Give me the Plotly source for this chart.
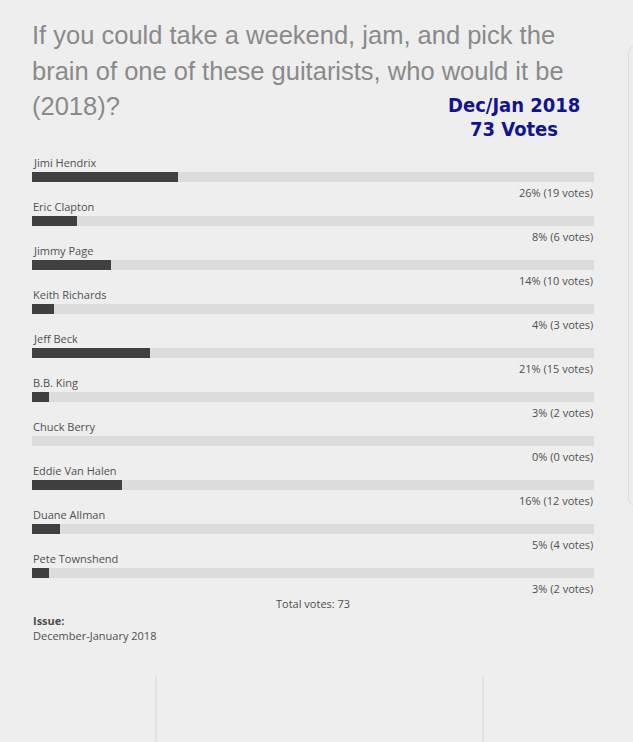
import plotly.graph_objects as go

# poll results, Dec/Jan 2018 issue
guitarists = ["Jimi Hendrix", "Eric Clapton", "Jimmy Page", "Keith Richards", "Jeff Beck",
              "B.B. King", "Chuck Berry", "Eddie Van Halen", "Duane Allman", "Pete Townshend"]
votes = [19, 6, 10, 3, 15, 2, 0, 12, 4, 2]
percents = [26, 8, 14, 4, 21, 3, 0, 16, 5, 3]

title_lines = ["If you could take a weekend, jam, and pick the",
               "brain of one of these guitarists, who would it be",
               "(2018)?"]
stamp_lines = ["Dec/Jan 2018", "73 Votes"]

total_votes = sum(votes)

W, H = 633, 742
L, R, T, B = 32, 39, 133, 125
BG = "#eeeeee"
TXT = "#505050"
FONT = "Open Sans, Noto Sans, sans-serif"
SMALL = 11


# paper coords are relative to the plot area, so convert page pixels
def px(x):
    return (x - L) / (W - L - R)


def py(y):
    return 1 - (y - T) / (H - T - B)


fig = go.Figure()

# grey track behind each bar
fig.add_trace(go.Bar(
    x=[100] * len(guitarists), y=guitarists, orientation="h",
    marker=dict(color="#dcdcdc", line=dict(width=0)),
    width=0.227, hoverinfo="skip", showlegend=False,
))
fig.add_trace(go.Bar(
    x=percents, y=guitarists, orientation="h",
    marker=dict(color="#404040", line=dict(width=0)),
    width=0.227, showlegend=False,
    customdata=votes, hovertemplate="%{y}: %{x}% (%{customdata} votes)<extra></extra>",
))

annotations = []
for name, pct, v in zip(guitarists, percents, votes):
    annotations.append(dict(
        x=0, y=name, xref="x", yref="y", text=name, showarrow=False,
        xanchor="left", yanchor="middle", yshift=15, xshift=-1,
        font=dict(size=SMALL, color=TXT, family=FONT),
    ))
    annotations.append(dict(
        x=100, y=name, xref="x", yref="y", text=f"{pct}% ({v} votes)", showarrow=False,
        xanchor="right", yanchor="middle", yshift=-15, xshift=1,
        font=dict(size=SMALL, color=TXT, family=FONT),
    ))

# title block, one annotation per line to get the wide line spacing
for i, line in enumerate(title_lines):
    annotations.append(dict(
        x=px(30), y=py(35 + 35.5 * i), xref="paper", yref="paper",
        xanchor="left", yanchor="middle", showarrow=False, text=line,
        font=dict(size=25.5, color="#8a8a8a", family="Liberation Sans, Arial, sans-serif"),
    ))

for i, line in enumerate(stamp_lines):
    annotations.append(dict(
        x=px(514), y=py(105 + 24 * i), xref="paper", yref="paper",
        xanchor="center", yanchor="middle", showarrow=False, text=f"<b>{line}</b>",
        font=dict(size=20, color="#13138f",
                  family="DejaVu Sans Condensed, Liberation Sans Narrow, sans-serif"),
    ))

# footer
annotations.append(dict(
    x=px(313), y=py(603), xref="paper", yref="paper", xanchor="center", yanchor="middle",
    showarrow=False, text=f"Total votes: {total_votes}",
    font=dict(size=SMALL, color=TXT, family=FONT),
))
annotations.append(dict(
    x=px(31), y=py(620), xref="paper", yref="paper", xanchor="left", yanchor="middle",
    showarrow=False, text="<b>Issue:</b>",
    font=dict(size=SMALL, color=TXT, family=FONT),
))
annotations.append(dict(
    x=px(31), y=py(635), xref="paper", yref="paper", xanchor="left", yanchor="middle",
    showarrow=False, text="December-January 2018",
    font=dict(size=SMALL, color=TXT, family=FONT),
))

shapes = [
    dict(type="line", xref="paper", yref="paper", x0=px(156), x1=px(156),
         y0=py(675), y1=py(742), line=dict(color="#d8d8d8", width=1)),
    dict(type="line", xref="paper", yref="paper", x0=px(483), x1=px(483),
         y0=py(675), y1=py(742), line=dict(color="#d8d8d8", width=1)),
    # edge of the sidebar box on the right
    dict(type="path", xref="paper", yref="paper",
         path=f"M {px(640)} {py(46)} L {px(636)} {py(46)} Q {px(628.5)} {py(46)} {px(628.5)} {py(54)} "
              f"L {px(628.5)} {py(497)} Q {px(628.5)} {py(505)} {px(636)} {py(505)} L {px(640)} {py(505)}",
         line=dict(color="#dddddd", width=1)),
]

fig.update_layout(
    width=W, height=H,
    margin=dict(l=L, r=R, t=T, b=B),
    paper_bgcolor=BG, plot_bgcolor=BG,
    barmode="overlay", bargap=0,
    xaxis=dict(range=[0, 100], visible=False, fixedrange=True),
    yaxis=dict(type="category", categoryorder="array", categoryarray=guitarists,
               range=[10, -1], visible=False, fixedrange=True),
    annotations=annotations, shapes=shapes,
    showlegend=False,
)

fig.write_html("out.html", config={"displayModeBar": False},
               post_script="document.body.style.margin='0';document.body.style.background='#eeeeee';")
